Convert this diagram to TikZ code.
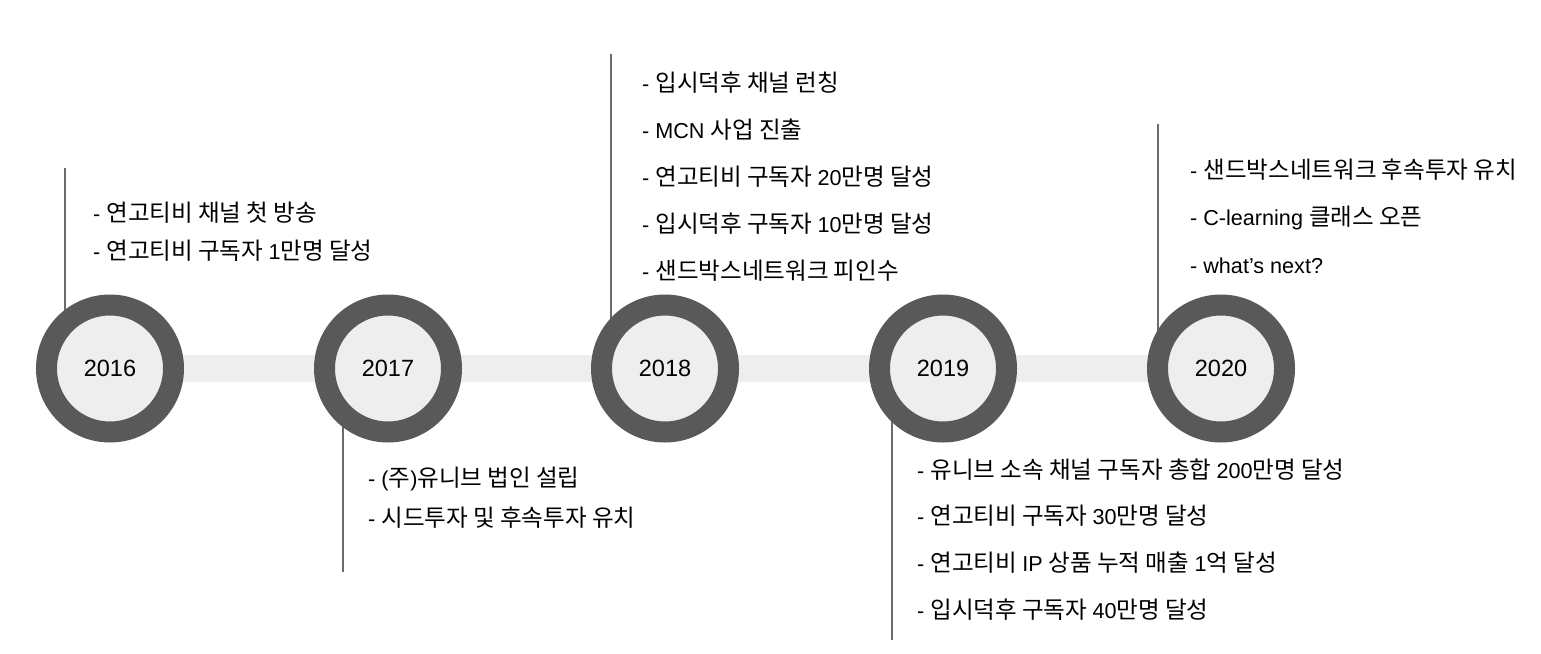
\documentclass[tikz,border=0pt]{standalone}
\usepackage{fontspec}
\setmainfont{Liberation Sans}
\newfontfamily\krfont[Scale=1.09]{Noto Sans CJK KR}
\newcommand{\kr}[1]{{\krfont #1}}
\definecolor{ringc}{HTML}{595959}
\definecolor{lightc}{HTML}{EEEEEE}
\definecolor{linec}{HTML}{6B6B6B}
\begin{document}
\begin{tikzpicture}[x=1pt,y=-1pt,
  yearnode/.style={circle,draw=ringc,fill=lightc,line width=21pt,minimum size=127pt,inner sep=0pt,font=\fontsize{23.5}{28}\selectfont},
  item/.style={anchor=base west,inner sep=0pt,font=\fontsize{21.6}{25}\selectfont},
  barline/.style={lightc,line width=27pt},
  stem/.style={linec,line width=2pt}]
\useasboundingbox (0,0) rectangle (1541,653);
% coordinates
\coordinate (p2016) at (110,368.5);
\coordinate (p2017) at (388,368.5);
\coordinate (p2018) at (665,368.5);
\coordinate (p2019) at (943,368.5);
\coordinate (p2020) at (1221,368.5);
\coordinate (t2016) at (65,168);
\coordinate (t2017) at (343,572);
\coordinate (t2018) at (611,54);
\coordinate (t2019) at (892,640);
\coordinate (t2020) at (1158,124);
% bar and stems behind
\draw[barline] (p2016) -- (p2020);
\draw[stem] (t2016) -- (t2016 |- p2016);
\draw[stem] (t2017) -- (t2017 |- p2017);
\draw[stem] (t2018) -- (t2018 |- p2018);
\draw[stem] (t2019) -- (t2019 |- p2019);
\draw[stem] (t2020) -- (t2020 |- p2020);
% circles
\node[yearnode] (c2016) at (p2016) {2016};
\node[yearnode] (c2017) at (p2017) {2017};
\node[yearnode] (c2018) at (p2018) {2018};
\node[yearnode] (c2019) at (p2019) {2019};
\node[yearnode] (c2020) at (p2020) {2020};
% 2016
\node[item] (a1) at (93,221) {- \kr{연고티비 채널 첫 방송}};
\node[item] (a2) at (93,259) {- \kr{연고티비 구독자 }1\kr{만명 달성}};
% 2017
\node[item] (b1) at (368,486) {- (\kr{주})\kr{유니브 법인 설립}};
\node[item] (b2) at (368,526) {- \kr{시드투자 및 후속투자 유치}};
% 2018
\node[item] (d1) at (642,91) {- \kr{입시덕후 채널 런칭}};
\node[item] (d2) at (642,138) {- MCN \kr{사업 진출}};
\node[item] (d3) at (642,185) {- \kr{연고티비 구독자 }20\kr{만명 달성}};
\node[item] (d4) at (642,232) {- \kr{입시덕후 구독자 }10\kr{만명 달성}};
\node[item] (d5) at (642,279) {- \kr{샌드박스네트워크 피인수}};
% 2019
\node[item] (e1) at (917,478) {- \kr{유니브 소속 채널 구독자 총합 }200\kr{만명 달성}};
\node[item] (e2) at (917,524) {- \kr{연고티비 구독자 }30\kr{만명 달성}};
\node[item] (e3) at (917,571) {- \kr{연고티비 }IP \kr{상품 누적 매출 }1\kr{억 달성}};
\node[item] (e4) at (917,618) {- \kr{입시덕후 구독자 }40\kr{만명 달성}};
% 2020
\node[item] (f1) at (1190,178) {- \kr{샌드박스네트워크 후속투자 유치}};
\node[item] (f2) at (1190,225) {- C-learning \kr{클래스 오픈}};
\node[item] (f3) at (1190,273) {- what’s next?};
\end{tikzpicture}
\end{document}
